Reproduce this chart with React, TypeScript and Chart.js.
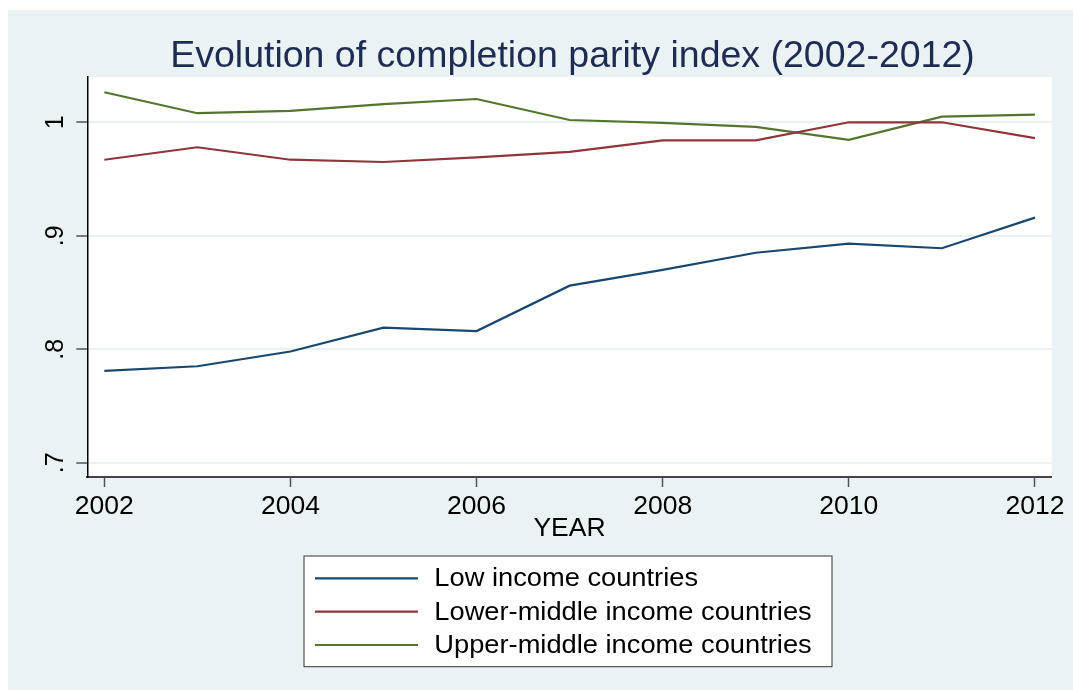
import { useEffect, useRef } from "react";
import { Chart, registerables } from "chart.js";

Chart.register(...registerables);

const years = [2002, 2003, 2004, 2005, 2006, 2007, 2008, 2009, 2010, 2011, 2012];
const lowIncome = [0.781, 0.785, 0.798, 0.819, 0.816, 0.856, 0.87, 0.885, 0.893, 0.889, 0.916];
const lowerMiddle = [0.967, 0.978, 0.967, 0.965, 0.969, 0.974, 0.984, 0.984, 1.0, 1.0, 0.986];
const upperMiddle = [1.0265, 1.008, 1.01, 1.016, 1.0205, 1.002, 0.9995, 0.996, 0.9845, 1.005, 1.0067];
const seriesNames = ["Low income countries", "Lower-middle income countries", "Upper-middle income countries"];
const seriesColors = ["#1a476f", "#90353b", "#55752f"];
const xTicks = [2002, 2004, 2006, 2008, 2010, 2012];
const yTicks = [0.7, 0.8, 0.9, 1];
const yTickLabels = [".7", ".8", ".9", "1"];
const titleText = "Evolution of completion parity index (2002-2012)";
const xTitleText = "YEAR";

const FONT = "'Liberation Sans', Arial, Helvetica, sans-serif";
const BG = "#eaf2f3";

const backgroundPlugin = {
  id: "stataBackground",
  beforeDraw(chart: any) {
    const { ctx, width, height, chartArea } = chart;
    ctx.save();
    ctx.fillStyle = BG;
    ctx.fillRect(0, 0, width, height);
    ctx.fillStyle = "#ffffff";
    ctx.fillRect(chartArea.left, chartArea.top, chartArea.right - chartArea.left, chartArea.bottom - chartArea.top);
    ctx.restore();
  },
};

const titleLegendPlugin = {
  id: "stataTitleLegend",
  afterDraw(chart: any) {
    const { ctx } = chart;
    ctx.save();
    // title
    ctx.fillStyle = "#1e2b52";
    ctx.font = `37.5px ${FONT}`;
    ctx.textAlign = "center";
    ctx.textBaseline = "alphabetic";
    ctx.fillText(titleText, 564.5, 56.7);

    // legend box
    const bx = 296, by = 546, bw = 528, bh = 110.7;
    ctx.fillStyle = "#ffffff";
    ctx.fillRect(bx, by, bw, bh);
    ctx.strokeStyle = "#333333";
    ctx.lineWidth = 1;
    ctx.strokeRect(bx, by, bw, bh);
    const rows = [568.3, 601.7, 635];
    ctx.font = `25px ${FONT}`;
    const labels = chart.data.datasets.map((d: any) => d.label);
    const widest = Math.max(...labels.map((l: string) => ctx.measureText(l).width));
    const sx = 377.4 / widest;
    chart.data.datasets.forEach((ds: any, i: number) => {
      const y = rows[i];
      ctx.strokeStyle = ds.borderColor;
      ctx.lineWidth = 2.2;
      ctx.beginPath();
      ctx.moveTo(307, y);
      ctx.lineTo(410, y);
      ctx.stroke();
      ctx.save();
      ctx.translate(426.3, y + 1);
      ctx.scale(sx, 1);
      ctx.fillStyle = "#000000";
      ctx.font = `25px ${FONT}`;
      ctx.textAlign = "left";
      ctx.textBaseline = "middle";
      ctx.fillText(ds.label, 0, 0);
      ctx.restore();
    });
    ctx.restore();
  },
};

export default function App() {
  const canvasRef = useRef<HTMLCanvasElement | null>(null);

  useEffect(() => {
    if (!canvasRef.current) return;
    const series = [lowIncome, lowerMiddle, upperMiddle];
    const chart = new Chart(canvasRef.current, {
      type: "line",
      data: {
        datasets: series.map((vals, i) => ({
          label: seriesNames[i],
          data: years.map((yr, j) => ({ x: yr, y: vals[j] })),
          borderColor: seriesColors[i],
          backgroundColor: seriesColors[i],
          borderWidth: 2.2,
          pointRadius: 0,
          tension: 0,
          fill: false,
        })),
      },
      options: {
        responsive: false,
        animation: false,
        layout: { padding: { left: 0, top: 67, right: 21.3, bottom: 142 } },
        plugins: {
          legend: { display: false },
          title: { display: false },
          tooltip: { enabled: false },
        },
        scales: {
          x: {
            type: "linear",
            min: 2001.817,
            max: 2012.18,
            afterBuildTicks: (scale: any) => {
              scale.ticks = xTicks.map((v) => ({ value: v }));
            },
            afterFit: (scale: any) => {
              scale.height = 71;
              scale.paddingLeft = 0;
              scale.paddingRight = 0;
              scale.paddingTop = 0;
              scale.paddingBottom = 0;
            },
            grid: {
              display: true,
              drawOnChartArea: false,
              drawTicks: true,
              tickLength: 10,
              tickColor: "#555555",
              tickWidth: 1.5,
            },
            border: { display: true, color: "#444444", width: 2 },
            ticks: {
              padding: 3.5,
              maxRotation: 0,
              minRotation: 0,
              color: "#000000",
              font: { family: FONT, size: 26.5 },
              callback: (v: any) => String(v),
            },
            title: {
              display: true,
              text: xTitleText,
              color: "#000000",
              font: { family: FONT, size: 26.5 },
              padding: { top: 0, bottom: 3 },
            },
          },
          y: {
            type: "linear",
            min: 0.6874,
            max: 1.0399,
            afterBuildTicks: (scale: any) => {
              scale.ticks = yTicks.map((v) => ({ value: v }));
            },
            afterFit: (scale: any) => {
              scale.width = 79.3;
              scale.paddingLeft = 0;
              scale.paddingRight = 0;
              scale.paddingTop = 0;
              scale.paddingBottom = 0;
            },
            grid: {
              display: true,
              drawOnChartArea: true,
              drawTicks: true,
              color: "#eaf2f3",
              lineWidth: 2,
              tickLength: 11,
              tickColor: "#555555",
              tickWidth: 1.5,
            },
            border: { display: true, color: "#000000", width: 1.5 },
            ticks: {
              padding: 9.9,
              minRotation: 90,
              maxRotation: 90,
              crossAlign: "center",
              color: "#000000",
              font: { family: FONT, size: 25 },
              callback: (v: any) => {
                const idx = yTicks.findIndex((t) => Math.abs(t - v) < 1e-9);
                return idx >= 0 ? yTickLabels[idx] : "";
              },
            },
          },
        },
      } as any,
      plugins: [backgroundPlugin, titleLegendPlugin],
    });
    return () => chart.destroy();
  }, []);

  return (
    <div style={{ position: "fixed", left: 8, top: 10, width: 1065, height: 680 }}>
      <canvas ref={canvasRef} width={1065} height={680} style={{ display: "block" }} />
    </div>
  );
}
